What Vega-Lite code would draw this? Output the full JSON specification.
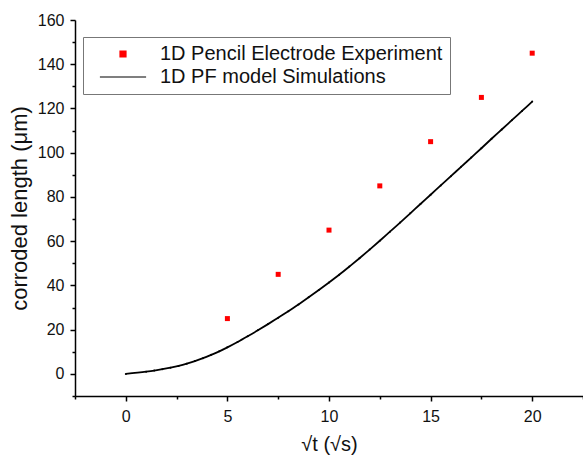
{
  "$schema": "https://vega.github.io/schema/vega-lite/v6.json",
  "width": 508,
  "height": 376,
  "autosize": {"type": "none"},
  "padding": {"left": 75, "top": 20, "right": 0, "bottom": 60},
  "background": "white",
  "config": {
    "view": {"stroke": null},
    "font": "Liberation Sans",
    "axis": {
      "domainColor": "black",
      "domainWidth": 1.5,
      "tickColor": "black",
      "tickWidth": 1.5,
      "grid": false,
      "labelFont": "Liberation Sans",
      "labelFontSize": 16,
      "labelColor": "#111",
      "titleFont": "Liberation Sans",
      "titleFontSize": 21,
      "titleFontWeight": "normal",
      "titleColor": "#111"
    }
  },
  "datasets": {
    "exp": [
      {"x": 5, "y": 25, "series": "1D Pencil Electrode Experiment"},
      {"x": 7.5, "y": 45, "series": "1D Pencil Electrode Experiment"},
      {"x": 10, "y": 65, "series": "1D Pencil Electrode Experiment"},
      {"x": 12.5, "y": 85, "series": "1D Pencil Electrode Experiment"},
      {"x": 15, "y": 105, "series": "1D Pencil Electrode Experiment"},
      {"x": 17.5, "y": 125, "series": "1D Pencil Electrode Experiment"},
      {"x": 20, "y": 145, "series": "1D Pencil Electrode Experiment"}
    ],
    "sim": [
      {"x": 0, "y": 0, "series": "1D PF model Simulations"},
      {"x": 1, "y": 1.0, "series": "1D PF model Simulations"},
      {"x": 1.4, "y": 1.5, "series": "1D PF model Simulations"},
      {"x": 1.8, "y": 2.1, "series": "1D PF model Simulations"},
      {"x": 2.2, "y": 2.8, "series": "1D PF model Simulations"},
      {"x": 2.6, "y": 3.6, "series": "1D PF model Simulations"},
      {"x": 3.0, "y": 4.6, "series": "1D PF model Simulations"},
      {"x": 3.4, "y": 5.8, "series": "1D PF model Simulations"},
      {"x": 3.8, "y": 7.1, "series": "1D PF model Simulations"},
      {"x": 4.2, "y": 8.6, "series": "1D PF model Simulations"},
      {"x": 4.6, "y": 10.2, "series": "1D PF model Simulations"},
      {"x": 5.0, "y": 12.0, "series": "1D PF model Simulations"},
      {"x": 5.5, "y": 14.4, "series": "1D PF model Simulations"},
      {"x": 6.0, "y": 17.0, "series": "1D PF model Simulations"},
      {"x": 6.5, "y": 19.7, "series": "1D PF model Simulations"},
      {"x": 7.0, "y": 22.5, "series": "1D PF model Simulations"},
      {"x": 7.5, "y": 25.4, "series": "1D PF model Simulations"},
      {"x": 8.0, "y": 28.3, "series": "1D PF model Simulations"},
      {"x": 8.5, "y": 31.4, "series": "1D PF model Simulations"},
      {"x": 9.0, "y": 34.6, "series": "1D PF model Simulations"},
      {"x": 9.5, "y": 37.9, "series": "1D PF model Simulations"},
      {"x": 10.0, "y": 41.3, "series": "1D PF model Simulations"},
      {"x": 10.5, "y": 44.8, "series": "1D PF model Simulations"},
      {"x": 11.0, "y": 48.5, "series": "1D PF model Simulations"},
      {"x": 11.5, "y": 52.3, "series": "1D PF model Simulations"},
      {"x": 12.0, "y": 56.2, "series": "1D PF model Simulations"},
      {"x": 12.5, "y": 60.2, "series": "1D PF model Simulations"},
      {"x": 13.0, "y": 64.3, "series": "1D PF model Simulations"},
      {"x": 13.5, "y": 68.4, "series": "1D PF model Simulations"},
      {"x": 14.0, "y": 72.6, "series": "1D PF model Simulations"},
      {"x": 14.5, "y": 76.8, "series": "1D PF model Simulations"},
      {"x": 15.0, "y": 81.0, "series": "1D PF model Simulations"},
      {"x": 15.5, "y": 85.2, "series": "1D PF model Simulations"},
      {"x": 16.0, "y": 89.4, "series": "1D PF model Simulations"},
      {"x": 16.5, "y": 93.6, "series": "1D PF model Simulations"},
      {"x": 17.0, "y": 97.8, "series": "1D PF model Simulations"},
      {"x": 17.5, "y": 102.0, "series": "1D PF model Simulations"},
      {"x": 18.0, "y": 106.3, "series": "1D PF model Simulations"},
      {"x": 18.5, "y": 110.5, "series": "1D PF model Simulations"},
      {"x": 19.0, "y": 114.7, "series": "1D PF model Simulations"},
      {"x": 19.5, "y": 118.9, "series": "1D PF model Simulations"},
      {"x": 20.0, "y": 123.1, "series": "1D PF model Simulations"}
    ]
  },
  "encoding": {
    "x": {
      "field": "x", "type": "quantitative",
      "scale": {"domain": [-2.5, 22.5], "nice": false, "zero": false},
      "axis": {
        "title": "√t (√s)",
        "titleFontSize": 20,
        "values": [-2.5, 0, 2.5, 5, 7.5, 10, 12.5, 15, 17.5, 20, 22.5],
        "labelExpr": "datum.value % 5 === 0 ? datum.label : ''",
        "tickSize": {"condition": {"test": "datum.value % 5 === 0", "value": 5}, "value": 3},
        "labelPadding": 7,
        "titlePadding": 10,
        "labelFlush": false
      }
    },
    "y": {
      "field": "y", "type": "quantitative",
      "scale": {"domain": [-10, 160], "nice": false, "zero": false},
      "axis": {
        "title": "corroded length (μm)",
        "titleFontSize": 22,
        "values": [-10, 0, 10, 20, 30, 40, 50, 60, 70, 80, 90, 100, 110, 120, 130, 140, 150, 160],
        "labelExpr": "datum.value % 20 === 0 ? datum.label : ''",
        "tickSize": {"condition": {"test": "datum.value % 20 === 0", "value": 5}, "value": 3},
        "labelPadding": 6,
        "titlePadding": 6,
        "labelFlush": false
      }
    },
    "color": {
      "field": "series", "type": "nominal",
      "scale": {"domain": ["1D Pencil Electrode Experiment", "1D PF model Simulations"], "range": ["#ff0000", "#000000"]},
      "legend": {
        "title": null,
        "orient": "none",
        "legendX": 8,
        "legendY": 17,
        "strokeColor": "#777",
        "fillColor": "white",
        "padding": 7,
        "labelFont": "Liberation Sans",
        "labelFontSize": 20,
        "labelColor": "#111",
        "labelLimit": 500,
        "labelOffset": 50,
        "rowPadding": 3,
        "symbolSize": 36,
        "encode": {
          "symbols": {
            "update": {
              "x": {"value": 33},
              "shape": {"signal": "datum.value === '1D PF model Simulations' ? 'M-7.7,0H7.7M-0.2,0H0.2' : 'square'"},
              "fill": {"signal": "datum.value === '1D PF model Simulations' ? 'transparent' : '#ff0000'"},
              "stroke": {"signal": "datum.value === '1D PF model Simulations' ? '#333' : 'transparent'"},
              "strokeWidth": {"value": 1.2},
              "size": {"value": 36},
              "opacity": {"value": 1}
            }
          }
        }
      }
    }
  },
  "layer": [
    {
      "data": {"name": "sim"},
      "mark": {"type": "line", "strokeWidth": 1.8, "interpolate": "monotone"}
    },
    {
      "data": {"name": "sim"},
      "mark": {"type": "point", "filled": true, "size": 4, "opacity": 1, "shape": "circle"}
    },
    {
      "data": {"name": "exp"},
      "mark": {"type": "point", "filled": true, "shape": "square", "size": 25, "opacity": 1}
    }
  ]
}
